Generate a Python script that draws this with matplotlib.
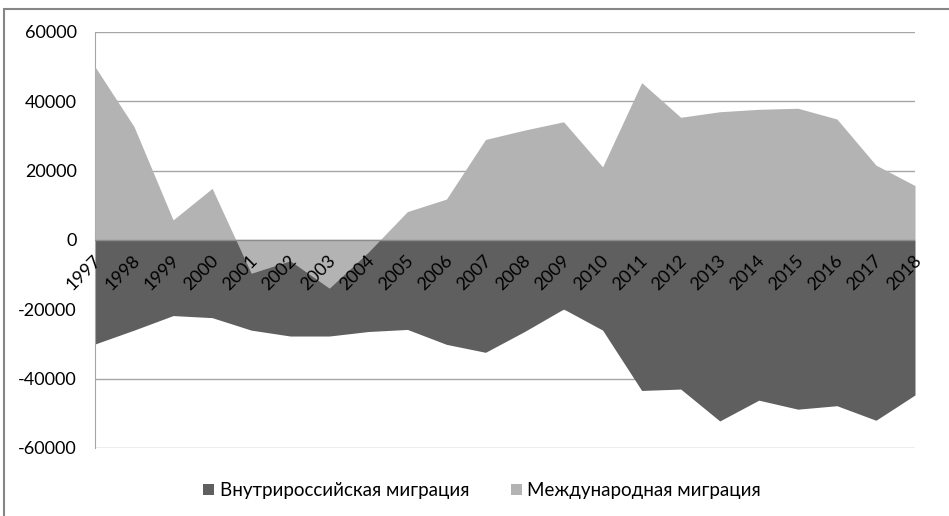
import matplotlib.pyplot as plt
from matplotlib.patches import Rectangle

plt.rcParams['font.family'] = ['Lato', 'Open Sans', 'DejaVu Sans']

# данные
years = [str(y) for y in range(1997, 2019)]
domestic = [-30000, -26000, -21800, -22400, -26000, -27700, -27700, -26400,
            -25800, -30100, -32400, -26400, -19900, -26000, -43400, -43000,
            -52200, -46200, -48800, -47800, -52000, -44700]
international = [50000, 32700, 5800, 14900, -9600, -6000, -13900, -3500,
                 8200, 11800, 29000, 31700, 34100, 21100, 45400, 35400,
                 37000, 37700, 38000, 34900, 21600, 15700]
yticks = [-60000, -40000, -20000, 0, 20000, 40000, 60000]

dark = '#5f5f5f'
light = '#b3b3b3'
grid = '#a6a6a6'

fig = plt.figure(figsize=(9.49, 5.16), dpi=100)
ax = fig.add_axes([95 / 949, 1 - 448 / 516, 820 / 949, 416 / 516])

x = list(range(len(years)))
ax.fill_between(x, 0, domestic, color=dark, lw=0, zorder=2,
                label='Внутрироссийская миграция')
ax.fill_between(x, 0, international, color=light, lw=0, zorder=3,
                label='Международная миграция')
ax.axhline(0, color='#8c8c8c', lw=1, zorder=4)

ax.set_xlim(0, len(years) - 1)
ax.set_ylim(-60000, 60000)
ax.set_yticks(yticks)
ax.set_yticklabels([str(v) for v in yticks], fontsize=13)
ax.yaxis.grid(True, color=grid, lw=1)
ax.set_axisbelow(True)
ax.tick_params(axis='y', length=0, pad=13)
ax.set_xticks([])

for s in ['top', 'right', 'bottom']:
    ax.spines[s].set_visible(False)
ax.spines['left'].set_color(grid)

# подписи годов по оси 0
for i, yr in enumerate(years):
    ax.annotate(yr, xy=(i, 0), xytext=(-1.5, -9), textcoords='offset points',
                rotation=45, rotation_mode='anchor', ha='right', va='top',
                fontsize=13, zorder=5)

leg = fig.legend(loc='lower center', bbox_to_anchor=(0.508, 0.0), ncol=2,
                 frameon=False, fontsize=13.5, handlelength=0.6,
                 handleheight=0.6, handletextpad=0.3, columnspacing=2.2)

fig.patches.append(Rectangle((4 / 949, -0.1), 1.2, 1 - 9 / 516 + 0.1,
                             transform=fig.transFigure, fill=False,
                             edgecolor='#868686', lw=1.5))

fig.savefig('out.png', dpi=100)
